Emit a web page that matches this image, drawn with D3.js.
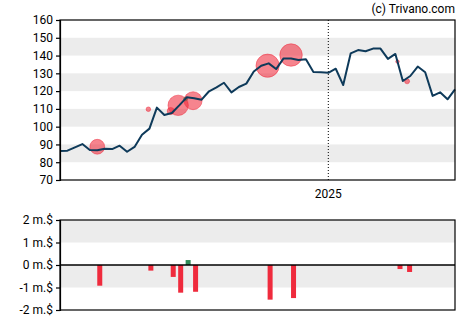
<!DOCTYPE html>
<html><head><meta charset="utf-8">
<script src="https://cdn.jsdelivr.net/npm/d3@7"></script>
<style>
body{margin:0;background:#fff;}
svg{display:block;font-family:Roboto,"Liberation Sans",Arial,sans-serif;}
</style></head>
<body><svg id="c" width="470" height="325"></svg>
<script>
// ---- data ----
const dates = ["2024-04-24","2024-05-01","2024-05-08","2024-05-15","2024-05-22","2024-05-29","2024-06-05","2024-06-12","2024-06-19","2024-06-26",
"2024-07-03","2024-07-10","2024-07-17","2024-07-24","2024-07-31","2024-08-07","2024-08-14","2024-08-21","2024-08-28","2024-09-04",
"2024-09-11","2024-09-18","2024-09-25","2024-10-02","2024-10-09","2024-10-16","2024-10-23","2024-10-30","2024-11-06","2024-11-13",
"2024-11-20","2024-11-27","2024-12-04","2024-12-11","2024-12-18","2024-12-25","2025-01-01","2025-01-08","2025-01-15","2025-01-22",
"2025-01-29","2025-02-05","2025-02-12","2025-02-19","2025-02-26","2025-03-05","2025-03-12","2025-03-19","2025-03-26","2025-04-02",
"2025-04-09","2025-04-16","2025-04-23","2025-04-30"];
const prices = [86.3,86.5,88.4,90.2,86.9,86.7,87.6,87.4,89.3,85.9,
88.6,95.5,98.9,110.7,106.6,107.7,112.0,116.5,116.0,115.2,
119.9,122.1,124.7,119.3,122.3,124.2,131.0,134.3,135.6,132.4,
138.4,138.4,137.5,137.9,130.8,130.6,130.3,132.6,123.4,141.2,
143.1,142.4,143.9,143.9,138.1,140.9,125.7,128.5,133.8,130.6,
117.3,119.3,115.4,121.0];

// insider trades
const tradeDates  = ["2024-05-29","2024-07-16","2024-08-06","2024-08-13","2024-08-20","2024-08-27","2024-11-05","2024-11-27","2025-03-07","2025-03-16"];
const tradePrices = [88.7,109.8,108.8,112.0,115.6,114.6,134.3,140.3,136.6,125.5];
const tradeValues = [-0.92,-0.25,-0.53,-1.23,0.22,-1.19,-1.54,-1.47,-0.18,-0.31]; // m.$
const tradeShares = [53,5,12,100,4,78,130,122,3,6]; // thousands (bubble size)

const priceTicks = [70,80,90,100,110,120,130,140,150,160];
const flowTicks = [-2,-1,0,1,2];
const flowLabels = ["-2 m.$","-1 m.$","0 m.$","1 m.$","2 m.$"];
const yearTick = ["2025-01-01"];
const yearLabel = ["2025"];

// ---- drawing ----
const parse = d3.timeParse("%Y-%m-%d");
const svg = d3.select("#c");
const L = 60, R = 455, T = 20, B = 180, T2 = 220, B2 = 310;

const x = d3.scaleTime().domain([parse(dates[0]), parse(dates[dates.length-1])]).range([L, R]);
const y = d3.scaleLinear().domain([70,160]).range([B, T]);
const y2 = d3.scaleLinear().domain([-2,2]).range([B2, T2]);
const rS = d3.scaleSqrt().domain([0,130]).range([0,11.6]);

const red = "#ef2b3d", green = "#2e8b57", line = "#0e3a5a", band = "#ececec";

// bands main
[[140,150],[120,130],[100,110],[80,90]].forEach(b=>{
  svg.append("rect").attr("x",L).attr("width",R-L)
    .attr("y",y(b[1])).attr("height",y(b[0])-y(b[1])).attr("fill",band);
});
// bands lower
[[1,2],[-1,0]].forEach(b=>{
  svg.append("rect").attr("x",L).attr("width",R-L)
    .attr("y",y2(b[1])).attr("height",y2(b[0])-y2(b[1])).attr("fill",band);
});

// year line
yearTick.forEach((d,i)=>{
  svg.append("line").attr("x1",x(parse(d))).attr("x2",x(parse(d)))
    .attr("y1",T).attr("y2",B).attr("stroke","#000").attr("stroke-width",1)
    .attr("stroke-dasharray","1,2");
  svg.append("text").attr("x",x(parse(d))).attr("y",B+18).attr("text-anchor","middle")
    .attr("font-size",12).attr("fill","#000").text(yearLabel[i]);
});

// bubbles
const trades = tradeDates.map((d,i)=>({d:parse(d),p:tradePrices[i],v:tradeValues[i],s:tradeShares[i]}));
svg.append("g").selectAll("circle").data(trades).join("circle")
  .attr("cx",d=>x(d.d)).attr("cy",d=>y(d.p)).attr("r",d=>rS(d.s))
  .attr("fill",d=>d.v>0?green:red).attr("fill-opacity",d=>d.v>0?0.85:0.58)
  .attr("stroke",d=>d.v>0?green:red).attr("stroke-opacity",0.5).attr("stroke-width",1);

// price line
const pts = dates.map((d,i)=>({d:parse(d),v:prices[i]}));
svg.append("path").datum(pts)
  .attr("d",d3.line().x(d=>x(d.d)).y(d=>y(d.v)))
  .attr("fill","none").attr("stroke",line).attr("stroke-width",2).attr("stroke-linejoin","round");

// bars
svg.append("g").selectAll("rect").data(trades).join("rect")
  .attr("x",d=>x(d.d)).attr("width",5)
  .attr("y",d=>Math.min(y2(0),y2(d.v))).attr("height",d=>Math.abs(y2(d.v)-y2(0)))
  .attr("fill",d=>d.v>0?green:red);

// zero line
svg.append("line").attr("x1",L).attr("x2",R).attr("y1",y2(0)).attr("y2",y2(0))
  .attr("stroke","#000").attr("stroke-width",1.5);

// frames
svg.append("rect").attr("x",L).attr("y",T).attr("width",R-L).attr("height",B-T)
  .attr("fill","none").attr("stroke","#000").attr("stroke-width",1.2);
svg.append("rect").attr("x",L).attr("y",T2).attr("width",R-L).attr("height",B2-T2)
  .attr("fill","none").attr("stroke","#000").attr("stroke-width",1.2);

// axes
const ay = svg.append("g").attr("transform",`translate(${L},0)`)
  .call(d3.axisLeft(y).tickValues(priceTicks).tickSize(4).tickPadding(3));
const ay2 = svg.append("g").attr("transform",`translate(${L},0)`)
  .call(d3.axisLeft(y2).tickValues(flowTicks).tickSize(4).tickPadding(3)
    .tickFormat((d,i)=>flowLabels[flowTicks.indexOf(d)]));
[ay,ay2].forEach(a=>{
  a.selectAll("text").attr("font-size",12).attr("fill","#000").attr("font-family","Roboto,Arial,sans-serif");
  a.selectAll("line").attr("stroke","#000").attr("stroke-width",1.2);
  a.select(".domain").attr("stroke","#000").attr("stroke-width",1.2);
});

// credit
svg.append("text").attr("x",R).attr("y",13).attr("text-anchor","end")
  .attr("font-size",12).attr("fill","#000").text("(c) Trivano.com");
</script>
</body></html>
